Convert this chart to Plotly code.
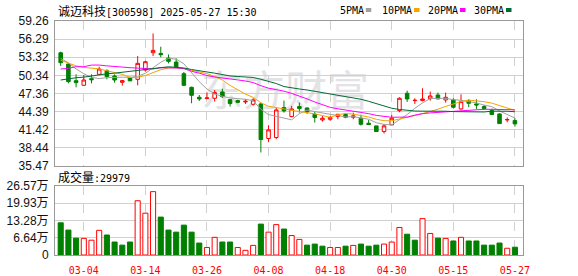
import plotly.graph_objects as go

# ---------------- data ----------------
dates = ["02-27", "02-28",
         "03-03", "03-04", "03-05", "03-06", "03-07", "03-10", "03-11", "03-12", "03-13", "03-14",
         "03-17", "03-18", "03-19", "03-20", "03-21", "03-24", "03-25", "03-26", "03-27", "03-28", "03-31",
         "04-01", "04-02", "04-03", "04-07", "04-08", "04-09", "04-10", "04-11", "04-14", "04-15", "04-16",
         "04-17", "04-18", "04-21", "04-22", "04-23", "04-24", "04-25", "04-28", "04-29", "04-30",
         "05-06", "05-07", "05-08", "05-09", "05-12", "05-13", "05-14", "05-15", "05-16", "05-19", "05-20",
         "05-21", "05-22", "05-23", "05-26", "05-27"]

opens = [54.05, 52.20, 49.47, 48.71, 49.80, 50.51, 51.11, 50.24, 49.20, 49.91,
         49.69, 51.22, 54.05, 53.94, 53.18, 52.53, 50.62, 48.38, 46.74, 46.52,
         46.58, 47.62, 46.36, 46.20, 45.98, 45.60, 45.65, 39.98, 40.14, 45.05,
         43.58, 45.22, 45.00, 43.96, 43.03, 43.14, 43.58, 43.91, 43.47, 43.31,
         42.49, 42.05, 41.12, 42.21, 44.56, 47.40, 46.20, 46.20, 46.52, 47.12,
         46.31, 46.31, 44.83, 46.14, 45.65, 45.22, 44.56, 44.01, 43.03, 42.92]
highs = [54.22, 52.31, 50.51, 50.40, 50.51, 51.76, 51.33, 50.51, 49.58, 50.13,
         53.51, 52.74, 57.22, 55.04, 53.78, 53.13, 50.89, 48.49, 47.12, 47.56,
         47.94, 48.16, 46.47, 46.36, 46.42, 46.58, 45.87, 42.16, 45.05, 46.20,
         45.33, 45.87, 45.00, 44.40, 43.69, 43.69, 43.96, 44.12, 44.23, 43.91,
         43.03, 42.05, 42.38, 43.85, 46.74, 47.83, 46.58, 48.22, 47.67, 47.51,
         47.51, 46.58, 47.23, 46.42, 46.42, 45.49, 44.89, 44.12, 43.42, 43.31]
lows = [51.87, 49.03, 48.38, 48.60, 49.03, 50.40, 49.69, 49.14, 48.65, 49.40,
        48.71, 50.95, 53.51, 53.29, 52.31, 51.49, 48.60, 45.76, 46.14, 46.47,
        46.03, 46.63, 45.22, 45.76, 45.65, 45.38, 37.69, 39.38, 39.87, 44.23,
        43.47, 44.23, 44.02, 42.60, 42.76, 42.87, 43.14, 43.31, 43.14, 42.10,
        42.21, 41.12, 40.79, 42.21, 44.29, 45.98, 45.65, 46.09, 46.20, 46.47,
        45.87, 44.89, 44.67, 45.11, 44.83, 44.67, 43.91, 42.43, 42.65, 41.94]
closes = [52.42, 49.31, 49.14, 49.58, 49.63, 51.38, 50.13, 49.58, 49.48, 49.44,
          52.31, 52.58, 54.44, 53.73, 52.64, 51.65, 48.71, 47.07, 46.47, 46.63,
          47.51, 46.85, 45.71, 45.92, 46.09, 46.31, 39.81, 41.40, 44.67, 44.51,
          44.83, 44.89, 44.34, 43.42, 43.31, 43.42, 43.96, 43.47, 43.69, 42.32,
          42.27, 41.12, 42.05, 43.31, 46.58, 46.47, 46.25, 46.47, 46.96, 46.47,
          46.74, 45.11, 46.03, 45.76, 45.49, 44.89, 43.91, 42.43, 43.09, 42.38]
volumes = [124000, 96000, 65000, 64000, 57000, 95000, 77000, 50000, 38000, 50000,
           209000, 161000, 244000, 146000, 96000, 88000, 115000, 88000, 46000, 29000,
           68000, 50000, 50000, 29000, 18000, 37000, 119000, 88000, 117000, 100000,
           75000, 60000, 38000, 42000, 34000, 29000, 29000, 34000, 37000, 42000,
           34000, 38000, 42000, 50000, 106000, 80000, 57000, 140000, 83000, 65000,
           64000, 54000, 68000, 54000, 54000, 38000, 38000, 46000, 26000, 29979]

# moving-average values at the left edge (need data before the window)
ma5_head = [53.13, 52.40, 51.40, 50.60]
ma10_head = [52.80, 52.30, 51.90, 51.65, 51.50, 51.40, 51.10, 50.85, 50.50]
ma20_head = [51.38, 51.50, 51.76, 51.76, 52.03, 52.03, 51.90, 51.85, 51.70, 51.60,
             51.50, 51.45, 51.40, 51.60, 51.60, 51.55, 51.45, 51.00, 50.70]
ma30_head = [49.58, 49.80, 49.95, 50.05, 50.25, 50.45, 50.60, 50.70, 50.85, 51.00,
             51.15, 51.30, 51.50, 51.70, 51.75, 51.65, 51.55, 51.30, 51.15, 50.90,
             50.70, 50.45, 50.25, 50.15, 50.10, 50.00, 49.70, 49.40, 49.00]

price_ticks = [59.26, 56.29, 53.32, 50.34, 47.36, 44.39, 41.42, 38.44, 35.47]
vol_ticks = [0, 66400, 132800, 199300, 265700]
vol_tick_text = ["0", "6.64万", "13.28万", "19.93万", "26.57万"]
date_ticks = ["03-04", "03-14", "03-26", "04-08", "04-18", "04-30", "05-15", "05-27"]

title_name = "诚迈科技"
title_rest = "[300598] 2025-05-27 15:30"
ma_names = ["5PMA", "10PMA", "20PMA", "30PMA"]


def moving_avg(vals, n, head):
    out = list(head)
    for i in range(n - 1, len(vals)):
        out.append(sum(vals[i - n + 1:i + 1]) / n)
    return out


ma_series = [moving_avg(closes, 5, ma5_head), moving_avg(closes, 10, ma10_head),
             moving_avg(closes, 20, ma20_head), moving_avg(closes, 30, ma30_head)]

idx = list(range(len(dates)))
tick_idx = [dates.index(d) for d in date_ticks]

# ---------------- styles ----------------
RED = "#ff0000"
GREEN = "#008000"
MA_COLORS = ["#a0a0a0", "#f5a300", "#ff00ff", "#006b33"]
GRID = "#d0d0d0"
FRAME = "#999999"
ASCII_FONT = "DejaVu Sans Mono"
CJK_FONT = "Noto Sans CJK SC"

W, H = 578, 276
L, R, T, B = 55, 523, 21, 255


def px(x):
    return (x - L) / (R - L)


def py(y):
    return (B - y) / (B - T)


fig = go.Figure()

fig.add_trace(go.Candlestick(
    x=idx, open=opens, high=highs, low=lows, close=closes,
    increasing=dict(line=dict(color=RED, width=1), fillcolor="white"),
    decreasing=dict(line=dict(color=GREEN, width=1), fillcolor=GREEN),
    whiskerwidth=0, xaxis="x", yaxis="y", hoverinfo="skip"))

for vals, col, name in zip(ma_series, MA_COLORS, ma_names):
    fig.add_trace(go.Scatter(x=idx, y=vals, mode="lines", name=name,
                             line=dict(color=col, width=1), xaxis="x", yaxis="y",
                             hoverinfo="skip"))

vol_up = []
for i, c in enumerate(closes):
    ref = closes[i - 1] if i > 0 else opens[0]
    vol_up.append(c >= ref)

fig.add_trace(go.Bar(
    x=idx, y=volumes, width=0.66,
    marker=dict(color=["white" if u else GREEN for u in vol_up],
                line=dict(color=[RED if u else GREEN for u in vol_up], width=1)),
    xaxis="x2", yaxis="y2", hoverinfo="skip"))

common_x = dict(type="linear", range=[-0.74, 60.05], autorange=False, showgrid=True,
                gridcolor=GRID, griddash="dash", gridwidth=1, tickmode="array",
                tickvals=tick_idx, ticktext=date_ticks,
                showline=True, linecolor=FRAME, linewidth=1, mirror=True, ticks="",
                zeroline=False, rangeslider=dict(visible=False), fixedrange=True,
                automargin=False)

common_y = dict(showgrid=True, gridcolor=GRID, gridwidth=1, zeroline=False,
                showline=True, linecolor=FRAME, mirror=True, ticks="",
                ticklabelstandoff=3, autorange=False, automargin=False, tickmode="array",
                fixedrange=True,
                tickfont=dict(family="Liberation Sans, " + CJK_FONT, size=12, color="#111"))

fig.update_layout(
    width=W, height=H,
    margin=dict(l=L, r=W - R, t=T, b=H - B, pad=0, autoexpand=False),
    plot_bgcolor="white", paper_bgcolor="white",
    showlegend=False, boxgap=0.34, hovermode=False,
    xaxis=dict(common_x, anchor="y", showticklabels=False),
    xaxis2=dict(common_x, anchor="y2", showticklabels=True,
                tickfont=dict(family=ASCII_FONT, size=10, color=RED),
                ticklabelstandoff=6),
    yaxis=dict(common_y, domain=[py(166), 1], range=[price_ticks[-1], price_ticks[0]],
               tickvals=price_ticks, ticktext=[f"{v:.2f}" for v in price_ticks]),
    yaxis2=dict(common_y, domain=[0, py(186)], range=[vol_ticks[0], vol_ticks[-1]],
                tickvals=vol_ticks, ticktext=vol_tick_text),
)

# title
fig.add_annotation(
    xref="paper", yref="paper", x=px(56), y=py(11), xanchor="left", yanchor="middle",
    showarrow=False,
    text=f'<span style="font-family:{CJK_FONT};font-size:12px">{title_name}</span>{title_rest}',
    font=dict(family=ASCII_FONT, size=10, color="#000"))

# volume caption
fig.add_annotation(
    xref="paper", yref="paper", x=px(56), y=py(176), xanchor="left", yanchor="middle",
    showarrow=False,
    text=f'<span style="font-family:{CJK_FONT};font-size:12px">成交量</span>:{volumes[-1]}',
    font=dict(family=ASCII_FONT, size=10, color="#000"))

# MA legend
legend_x = [338, 380, 426, 472]
for name, col, lx in zip(ma_names, MA_COLORS, legend_x):
    fig.add_annotation(xref="paper", yref="paper", x=px(lx), y=py(10.5), xanchor="left",
                       yanchor="middle", showarrow=False, text=name,
                       font=dict(family=ASCII_FONT, size=10, color="#000"))
    sx = lx + 6.2 * len(name) + 3
    fig.add_shape(type="rect", xref="paper", yref="paper", x0=px(sx), x1=px(sx + 5.5),
                  y0=py(12), y1=py(8), fillcolor=col, line=dict(width=0), layer="above")

# watermark
fig.add_shape(type="rect", xref="paper", yref="paper", x0=px(190), x1=px(380),
              y0=py(112), y1=py(76), line=dict(width=0), fillcolor="rgba(0,0,0,0)",
              layer="between",
              label=dict(text="东方财富", font=dict(family=CJK_FONT, size=42, color="#e3e3e6"),
                         textposition="middle center"))

fig.write_html("out.html", config={"displayModeBar": False, "staticPlot": True},
               post_script="document.body.style.margin='0';document.body.style.overflow='hidden';")
